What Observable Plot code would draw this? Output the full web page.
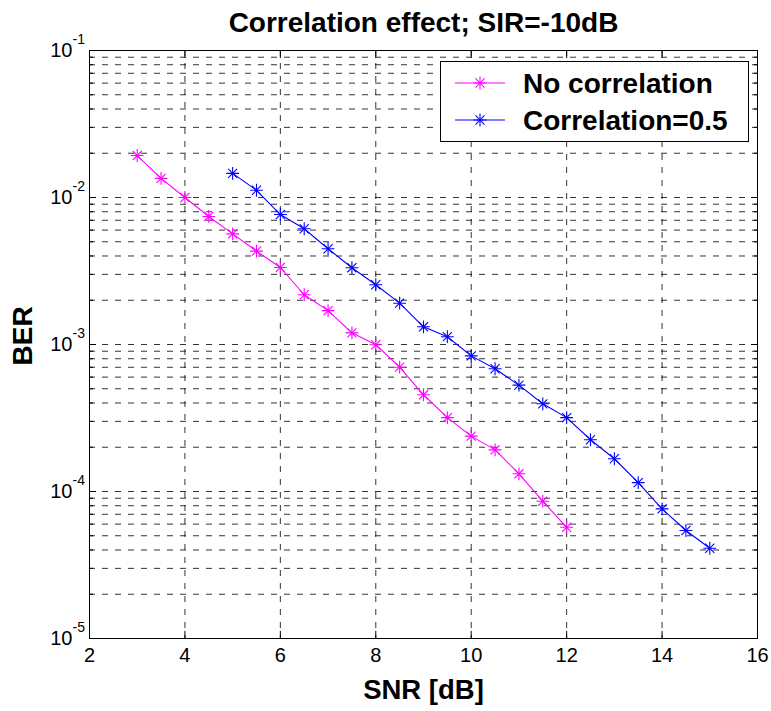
<!DOCTYPE html>
<html><head><meta charset="utf-8">
<script src="https://cdn.jsdelivr.net/npm/d3@7"></script>
<script src="https://cdn.jsdelivr.net/npm/@observablehq/plot@0.6"></script>
<style>body{margin:0;background:#fff} svg{display:block}</style>
</head><body><div id="chart"></div>
<script>
// ---- data ----
const snrNoCorr = [3, 3.5, 4, 4.5, 5, 5.5, 6, 6.5, 7, 7.5, 8, 8.5, 9, 9.5, 10, 10.5, 11, 11.5, 12];
const berNoCorr = [0.0193, 0.0135, 0.0100, 0.00743, 0.00566, 0.00432, 0.00334, 0.00218, 0.00170, 0.00120, 0.000996, 0.000701, 0.000455, 0.000318, 0.000238, 0.000192, 0.000132, 0.0000859, 0.0000571];
const snrCorr = [5, 5.5, 6, 6.5, 7, 7.5, 8, 8.5, 9, 9.5, 10, 10.5, 11, 11.5, 12, 12.5, 13, 13.5, 14, 14.5, 15];
const berCorr = [0.0146, 0.0112, 0.00766, 0.00613, 0.00448, 0.00333, 0.00255, 0.00191, 0.00132, 0.00113, 0.000837, 0.000684, 0.000529, 0.000395, 0.000318, 0.000225, 0.000167, 0.000115, 0.0000762, 0.0000543, 0.0000411];
const seriesNames = ["No correlation", "Correlation=0.5"];
const seriesColors = ["#ff00ff", "#0000ff"];
const xTicks = [2, 4, 6, 8, 10, 12, 14, 16];
const xGridTicks = [4, 6, 8, 10, 12, 14];
const yMajorTicks = [1e-5, 1e-4, 1e-3, 1e-2, 1e-1];
const yTickBase = "10";
const yTickExponents = ["-5", "-4", "-3", "-2", "-1"];
const yMinorMultipliers = [2, 3, 4, 5, 6, 7, 8, 9];
const yDecades = [1e-5, 1e-4, 1e-3, 1e-2];
const titleText = "Correlation effect; SIR=-10dB";
const xLabelText = "SNR [dB]";
const yLabelText = "BER";

// ---- tables built from the arrays ----
const rows = [
  ...snrNoCorr.map((x, i) => ({snr: x, ber: berNoCorr[i], series: seriesNames[0]})),
  ...snrCorr.map((x, i) => ({snr: x, ber: berCorr[i], series: seriesNames[1]}))
];
const yMinorTicks = yDecades.flatMap(d => yMinorMultipliers.map(m => m * d));
const yAllGrid = [...yMinorTicks, ...yMajorTicks.slice(1, 4)];
const expRows = yMajorTicks.map((v, i) => ({v, e: yTickExponents[i]}));

const font = "'Liberation Sans', Arial, Helvetica, sans-serif";
const gridStyle = {stroke: "#000", strokeOpacity: 0.8, strokeWidth: 1, strokeDasharray: "6,7"};

const plot = Plot.plot({
  width: 771, height: 711,
  marginLeft: 89, marginRight: 14, marginTop: 50, marginBottom: 73,
  style: {fontFamily: font, background: "#fff", color: "#000"},
  x: {domain: [2, 16]},
  y: {type: "log", domain: [1e-5, 1e-1]},
  color: {domain: seriesNames, range: seriesColors},
  marks: [
    // grid
    Plot.ruleY(yAllGrid, {...gridStyle}),
    Plot.ruleX(xGridTicks, {...gridStyle}),
    // tick marks pointing inward, all four sides
    Plot.axisY({anchor: "left", ticks: yMajorTicks, tickSize: -7, text: null, label: null}),
    Plot.axisY({anchor: "right", ticks: yMajorTicks, tickSize: -7, text: null, label: null}),
    Plot.axisY({anchor: "left", ticks: yMinorTicks, tickSize: -4, text: null, label: null}),
    Plot.axisY({anchor: "right", ticks: yMinorTicks, tickSize: -4, text: null, label: null}),
    Plot.axisX({anchor: "bottom", ticks: xTicks, tickSize: -7, text: null, label: null}),
    Plot.axisX({anchor: "top", ticks: xTicks, tickSize: -7, text: null, label: null}),
    // tick labels
    Plot.axisY({anchor: "left", ticks: yMajorTicks, tickSize: 0, tickPadding: 17, tickFormat: () => yTickBase, fontSize: 20, label: null}),
    Plot.text(expRows, {y: "v", text: "e", frameAnchor: "left", dx: -17, dy: -11, textAnchor: "start", fontSize: 14}),
    Plot.axisX({anchor: "bottom", ticks: xTicks, tickSize: 0, tickPadding: 9, tickFormat: d => String(d), fontSize: 20, label: null}),
    // frame
    Plot.frame({stroke: "#000", strokeWidth: 1}),
    // data
    Plot.line(rows, {x: "snr", y: "ber", z: "series", stroke: "series", strokeWidth: 1.1}),
    Plot.dot(rows, {x: "snr", y: "ber", stroke: "series", symbol: "plus", r: 4.2, strokeWidth: 1.1}),
    Plot.dot(rows, {x: "snr", y: "ber", stroke: "series", symbol: "times", r: 4.2, strokeWidth: 1.1}),
    // title and axis labels
    Plot.text([titleText], {frameAnchor: "top", dy: -19, lineAnchor: "bottom", fontSize: 28, fontWeight: "bold"}),
    Plot.text([xLabelText], {frameAnchor: "bottom", dy: 60, lineAnchor: "bottom", fontSize: 27.5, fontWeight: "bold"}),
    Plot.text([yLabelText], {frameAnchor: "left", dx: -66, dy: 21, rotate: -90, fontSize: 28, fontWeight: "bold"})
  ]
});

// ---- legend (MATLAB-style box, upper right) ----
const svg = d3.select(plot);
const lg = svg.append("g").attr("font-family", font).attr("text-anchor", "start");
lg.append("rect").attr("x", 440.5).attr("y", 61.5).attr("width", 308).attr("height", 80)
  .attr("fill", "#fff").attr("stroke", "#000").attr("stroke-width", 1);
const rowY = [83, 120];
seriesNames.forEach((name, i) => {
  const g = lg.append("g").attr("transform", `translate(0,${rowY[i]})`);
  g.append("line").attr("x1", 455).attr("x2", 505).attr("y1", 0).attr("y2", 0)
    .attr("stroke", seriesColors[i]).attr("stroke-width", 1.1);
  const s = Math.PI * 4.2 * 4.2;
  g.append("path").attr("transform", "translate(480,0)").attr("d", d3.symbol(d3.symbolPlus, s)())
    .attr("fill", "none").attr("stroke", seriesColors[i]).attr("stroke-width", 1.1);
  g.append("path").attr("transform", "translate(480,0)").attr("d", d3.symbol(d3.symbolTimes, s)())
    .attr("fill", "none").attr("stroke", seriesColors[i]).attr("stroke-width", 1.1);
  g.append("text").attr("x", 523).attr("y", 10).attr("font-size", 28).attr("font-weight", "bold")
    .attr("text-anchor", "start").attr("fill", "#000").text(name);
});

document.getElementById("chart").appendChild(plot);
</script>
</body></html>
